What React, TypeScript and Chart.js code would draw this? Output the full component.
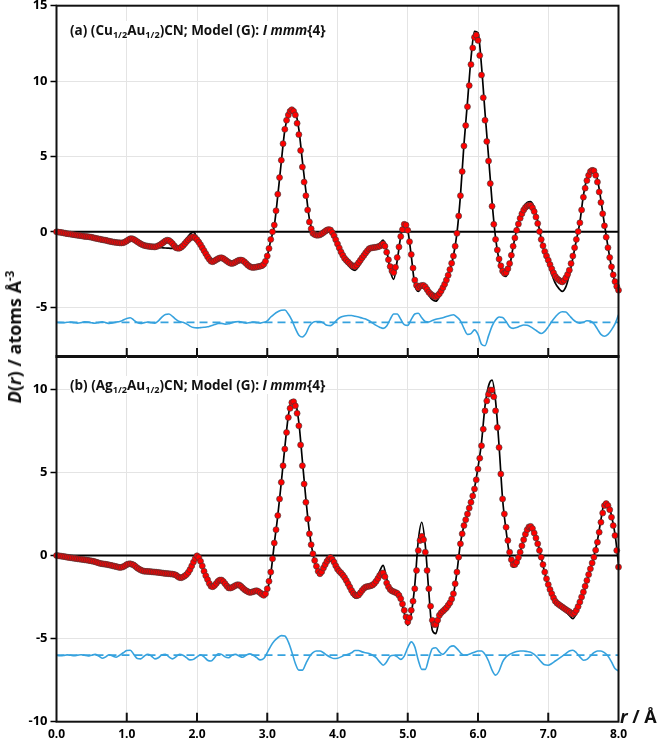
import React, { useEffect, useRef } from 'react';
import Chart from 'chart.js/auto';

// r grid step (Å); grid values are read at r = 0.00, 0.05, ... 8.00,
// the *_MID arrays hold the experimental points read in between (0.025, 0.075, ...)
const R_STEP = 0.05;
const X_MIN = 0;
const X_MAX = 8;
const X_MAJOR_TICKS = [1, 2, 3, 4, 5, 6, 7];
const DIFF_OFFSET = -6;

// ---- Panel (a) (Cu1/2Au1/2)CN ----
const TOP_EXP = [
  0, -0.03, -0.07, -0.12, -0.15, -0.19, -0.23, -0.26, -0.30, -0.32,
  -0.36, -0.42, -0.47, -0.52, -0.56, -0.62, -0.67, -0.70, -0.73, -0.72,
  -0.60, -0.46, -0.50, -0.65, -0.80, -0.90, -0.95, -0.98, -1.00, -0.92,
  -0.78, -0.60, -0.57, -0.78, -1.05, -1.08, -0.92, -0.65, -0.42, -0.33,
  -0.52, -0.85, -1.25, -1.65, -1.95, -1.92, -1.78, -1.72, -1.85, -2.02,
  -2.10, -2.00, -1.88, -1.90, -2.10, -2.30, -2.36, -2.33, -2.28, -2.15,
  -1.60, -0.50, 0.45, 2.50, 4.75, 6.80, 7.75, 8.10, 7.75, 6.45,
  4.30, 2.40, 0.66, -0.10, -0.22, -0.20, -0.05, 0.12, 0.12, -0.25,
  -0.80, -1.33, -1.75, -2.00, -2.22, -2.30, -2.05, -1.72, -1.40, -1.12,
  -1.05, -1.02, -0.95, -0.80, -1.35, -2.30, -2.70, -1.70, -0.30, 0.50,
  0.10, -1.50, -3.20, -3.70, -3.55, -3.65, -4.00, -4.20, -4.30, -4.10,
  -3.70, -3.20, -2.50, -1.60, -0.10, 2.40, 5.70, 8.30, 11.10, 12.90,
  12.70, 10.40, 7.40, 4.70, 1.70, -0.50, -1.80, -2.60, -2.70, -2.10,
  -0.95, 0.10, 0.90, 1.45, 1.72, 1.75, 1.35, 0.55, -0.50, -1.30,
  -1.88, -2.45, -2.95, -3.20, -3.32, -3.05, -2.54, -1.60, -0.50, 0.60,
  2.30, 3.40, 4.00, 4.05, 3.30, 1.95, 0.40, -1.05, -2.32, -3.30,
  -3.87,
];
const TOP_EXP_MID = [
  -0.015, -0.05, -0.095, -0.135, -0.17, -0.21, -0.245, -0.28, -0.31, -0.34,
  -0.39, -0.445, -0.495, -0.54, -0.59, -0.645, -0.685, -0.715, -0.735, -0.67,
  -0.52, -0.45, -0.57, -0.73, -0.86, -0.93, -0.965, -0.99, -0.97, -0.86,
  -0.69, -0.55, -0.66, -0.92, -1.09, -1.02, -0.79, -0.53, -0.35, -0.40,
  -0.68, -1.05, -1.45, -1.82, -1.98, -1.85, -1.73, -1.77, -1.94, -2.08,
  -2.06, -1.93, -1.87, -1.99, -2.21, -2.35, -2.35, -2.30, -2.24, -1.95,
  -1.10, 0.00, 1.40, 3.60, 5.85, 7.40, 8.00, 8.00, 7.20, 5.40,
  3.30, 1.45, 0.20, -0.18, -0.22, -0.13, 0.04, 0.15, -0.04, -0.52,
  -1.07, -1.55, -1.89, -2.12, -2.28, -2.20, -1.89, -1.56, -1.25, -1.07,
  -1.03, -0.99, -0.86, -0.95, -1.85, -2.60, -2.35, -1.00, 0.15, 0.45,
  -0.65, -2.40, -3.55, -3.60, -3.55, -3.82, -4.12, -4.28, -4.22, -3.92,
  -3.47, -2.88, -2.08, -0.95, 1.05, 4.00, 7.05, 9.70, 12.20, 13.05,
  11.70, 8.90, 6.00, 3.20, 0.50, -1.20, -2.25, -2.75, -2.45, -1.55,
  -0.40, 0.52, 1.20, 1.62, 1.77, 1.60, 0.98, 0.02, -0.92, -1.60,
  -2.17, -2.72, -3.10, -3.28, -3.22, -2.82, -2.10, -1.05, 0.02, 1.45,
  2.90, 3.75, 4.08, 3.75, 2.65, 1.20, -0.35, -1.70, -2.85, -3.62,
];
const TOP_CALC = [
  0, -0.03, -0.07, -0.12, -0.15, -0.19, -0.23, -0.26, -0.30, -0.32,
  -0.36, -0.42, -0.47, -0.52, -0.56, -0.62, -0.67, -0.70, -0.73, -0.72,
  -0.60, -0.48, -0.52, -0.66, -0.80, -0.90, -0.95, -0.98, -1.00, -1.03,
  -1.05, -1.07, -1.08, -1.10, -1.10, -1.00, -0.75, -0.45, -0.15, 0.00,
  -0.40, -0.85, -1.25, -1.65, -1.95, -1.92, -1.78, -1.72, -1.85, -2.02,
  -2.10, -2.00, -1.88, -1.90, -2.10, -2.30, -2.38, -2.35, -2.30, -2.15,
  -1.60, -0.55, 0.40, 2.40, 4.65, 6.75, 7.80, 8.20, 7.95, 6.80,
  4.70, 2.70, 0.85, 0.00, -0.22, -0.22, -0.05, 0.12, 0.10, -0.30,
  -0.90, -1.45, -1.90, -2.20, -2.45, -2.55, -2.30, -1.90, -1.45, -1.12,
  -1.02, -0.98, -0.80, -0.55, -1.20, -2.55, -3.15, -1.90, -0.30, 0.62,
  0.15, -1.60, -3.50, -3.95, -3.70, -3.80, -4.20, -4.50, -4.60, -4.30,
  -3.80, -3.25, -2.55, -1.60, -0.10, 2.40, 5.80, 8.60, 11.50, 13.30,
  13.20, 11.00, 7.90, 5.00, 2.00, -0.40, -1.90, -2.80, -2.95, -2.30,
  -1.00, 0.15, 1.05, 1.65, 1.95, 2.00, 1.60, 0.70, -0.45, -1.40,
  -2.10, -2.80, -3.40, -3.75, -3.95, -3.65, -2.85, -1.75, -0.55, 0.65,
  2.40, 3.55, 4.15, 4.20, 3.50, 2.10, 0.50, -1.00, -2.35, -3.35,
  -3.95,
];
const TOP_DIFF = [
  -6.00, -6.02, -6.03, -6.00, -5.98, -6.02, -6.05, -6.02, -5.97, -5.98,
  -6.03, -6.06, -6.02, -5.97, -6.02, -6.08, -6.05, -5.98, -5.95, -5.85,
  -5.75, -5.70, -5.85, -6.02, -6.08, -6.02, -5.98, -6.03, -6.05, -5.90,
  -5.65, -5.48, -5.45, -5.60, -5.80, -5.95, -6.00, -6.10, -6.25, -6.35,
  -6.37, -6.35, -6.33, -6.30, -6.22, -6.15, -6.08, -6.07, -6.12, -6.10,
  -6.02, -5.97, -5.95, -6.00, -6.05, -6.02, -5.98, -6.02, -6.05, -6.00,
  -5.90, -5.65, -5.45, -5.30, -5.20, -5.18, -5.45, -5.85, -6.40, -6.85,
  -6.97, -6.75, -6.25, -6.00, -5.95, -5.95, -6.05, -6.20, -6.22, -6.05,
  -5.80, -5.65, -5.58, -5.55, -5.55, -5.60, -5.65, -5.72, -5.78, -5.90,
  -6.05, -6.20, -6.32, -6.40, -6.25, -5.80, -5.45, -5.45, -5.80, -6.15,
  -6.20, -5.80, -5.45, -5.40, -5.70, -5.95, -5.98, -5.88, -5.80, -5.75,
  -5.70, -5.62, -5.55, -5.50, -5.65, -5.90, -6.40, -6.80, -6.75, -6.50,
  -6.80, -7.45, -7.55, -6.90, -6.25, -5.85, -5.65, -5.68, -5.95, -6.30,
  -6.40, -6.35, -6.25, -6.18, -6.20, -6.30, -6.45, -6.62, -6.74, -6.60,
  -6.30, -5.95, -5.65, -5.40, -5.30, -5.32, -5.55, -5.80, -5.98, -6.05,
  -6.00, -5.90, -5.92, -6.10, -6.45, -6.80, -6.92, -6.80, -6.50, -6.10,
  -5.50,
];

// ---- Panel (b) (Ag1/2Au1/2)CN ----
const BOT_EXP = [
  0, -0.03, -0.06, -0.10, -0.13, -0.17, -0.20, -0.23, -0.26, -0.29,
  -0.33, -0.38, -0.45, -0.50, -0.53, -0.57, -0.62, -0.67, -0.72, -0.68,
  -0.55, -0.50, -0.58, -0.75, -0.88, -0.95, -0.96, -0.98, -1.00, -1.02,
  -1.05, -1.08, -1.10, -1.12, -1.18, -1.33, -1.30, -1.15, -0.85, -0.40,
  -0.02, -0.35, -0.95, -1.45, -1.85, -1.80, -1.55, -1.48, -1.70, -1.95,
  -1.92, -1.80, -1.77, -1.95, -2.12, -2.22, -2.18, -2.12, -2.25, -2.40,
  -2.00, -1.00, 0.75, 2.40, 4.40, 6.40, 8.30, 9.20, 9.00, 7.80,
  5.40, 3.20, 1.30, 0.10, -0.65, -1.10, -0.75, -0.35, -0.12, -0.40,
  -0.82, -1.05, -1.32, -1.70, -2.10, -2.38, -2.38, -2.10, -1.90, -1.85,
  -1.78, -1.55, -1.20, -1.05, -1.65, -2.05, -2.18, -2.28, -2.60, -3.30,
  -4.00, -3.30, -2.00, 0.30, 1.15, 0.20, -2.00, -3.90, -4.15, -3.60,
  -3.35, -3.15, -2.85, -2.30, -1.00, 0.70, 1.80, 2.50, 3.20, 4.00,
  5.20, 6.60, 8.70, 9.70, 9.95, 8.70, 6.50, 3.40, 1.70, 0.20,
  -0.55, -0.40, 0.20, 0.95, 1.55, 1.75, 1.35, 0.70, -0.10, -1.00,
  -1.75, -2.30, -2.75, -2.95, -3.10, -3.25, -3.38, -3.53, -3.30, -2.80,
  -2.20, -1.50, -0.80, -0.10, 0.80, 2.00, 3.00, 3.00, 2.30, 1.20,
  -0.70,
];
const BOT_EXP_MID = [
  -0.015, -0.045, -0.08, -0.115, -0.15, -0.185, -0.215, -0.245, -0.275, -0.31,
  -0.355, -0.415, -0.48, -0.515, -0.55, -0.595, -0.645, -0.70, -0.71, -0.62,
  -0.51, -0.53, -0.66, -0.82, -0.92, -0.955, -0.97, -0.99, -1.01, -1.035,
  -1.065, -1.09, -1.11, -1.14, -1.26, -1.34, -1.23, -1.02, -0.63, -0.18,
  -0.12, -0.63, -1.22, -1.68, -1.88, -1.68, -1.48, -1.57, -1.84, -1.96,
  -1.86, -1.76, -1.85, -2.05, -2.18, -2.21, -2.14, -2.17, -2.34, -2.30,
  -1.55, -0.20, 1.55, 3.40, 5.40, 7.40, 8.85, 9.25, 8.55, 6.65,
  4.30, 2.20, 0.65, -0.30, -0.95, -0.98, -0.55, -0.20, -0.22, -0.62,
  -0.95, -1.18, -1.50, -1.90, -2.27, -2.42, -2.25, -1.98, -1.87, -1.82,
  -1.68, -1.38, -1.08, -1.28, -1.88, -2.13, -2.22, -2.40, -2.92, -3.70,
  -3.75, -2.75, -0.90, 0.90, 0.95, -0.90, -3.05, -4.15, -3.90, -3.45,
  -3.25, -3.00, -2.62, -1.70, -0.10, 1.30, 2.15, 2.85, 3.58, 4.55,
  5.85, 7.60, 9.30, 9.95, 9.55, 7.70, 4.90, 2.50, 0.90, -0.25,
  -0.55, -0.12, 0.58, 1.28, 1.72, 1.62, 1.05, 0.30, -0.55, -1.40,
  -2.05, -2.55, -2.87, -3.03, -3.18, -3.32, -3.47, -3.45, -3.07, -2.50,
  -1.85, -1.15, -0.45, 0.32, 1.40, 2.55, 3.12, 2.75, 1.80, 0.30,
];
const BOT_CALC = [
  0, -0.03, -0.06, -0.10, -0.13, -0.17, -0.20, -0.23, -0.26, -0.29,
  -0.33, -0.38, -0.43, -0.48, -0.53, -0.58, -0.63, -0.68, -0.72, -0.72,
  -0.62, -0.58, -0.62, -0.75, -0.88, -0.95, -0.96, -0.98, -1.00, -1.02,
  -1.05, -1.08, -1.10, -1.12, -1.18, -1.30, -1.28, -1.10, -0.75, -0.25,
  0.10, -0.30, -0.95, -1.50, -1.85, -1.80, -1.55, -1.50, -1.72, -1.95,
  -1.92, -1.80, -1.80, -1.98, -2.15, -2.25, -2.20, -2.15, -2.30, -2.45,
  -2.10, -1.10, 0.70, 2.40, 4.40, 6.50, 8.40, 9.35, 9.20, 8.00,
  5.70, 3.40, 1.40, 0.10, -0.75, -1.20, -0.80, -0.30, 0.00, -0.35,
  -0.85, -1.10, -1.40, -1.80, -2.25, -2.55, -2.50, -2.20, -1.95, -1.85,
  -1.75, -1.45, -0.95, -0.60, -1.40, -2.05, -2.25, -2.35, -2.70, -3.45,
  -4.20, -3.50, -1.80, 0.90, 2.00, 0.60, -2.20, -4.50, -4.70, -3.80,
  -3.40, -3.20, -2.90, -2.35, -1.00, 0.75, 1.80, 2.50, 3.20, 4.05,
  5.30, 6.80, 9.00, 10.20, 10.55, 9.30, 6.60, 3.40, 1.50, 0.00,
  -0.70, -0.50, 0.20, 1.00, 1.65, 1.83, 1.45, 0.75, -0.10, -1.05,
  -1.85, -2.40, -2.85, -3.05, -3.20, -3.40, -3.60, -3.80, -3.50, -2.90,
  -2.30, -1.55, -0.80, -0.05, 0.90, 2.15, 3.20, 3.15, 2.40, 1.30,
  -0.50,
];
const BOT_DIFF = [
  -6.00, -6.03, -6.02, -5.98, -6.00, -6.03, -6.00, -5.97, -6.00, -6.05,
  -6.00, -5.95, -6.05, -6.18, -6.10, -5.97, -6.05, -6.12, -6.00, -5.85,
  -5.72, -5.70, -5.95, -6.20, -6.22, -6.05, -5.95, -6.05, -6.22, -6.15,
  -5.98, -5.95, -6.10, -6.22, -6.10, -5.95, -6.00, -6.15, -6.28, -6.25,
  -6.10, -5.98, -6.10, -6.30, -6.35, -6.15, -5.92, -5.95, -6.10, -6.15,
  -6.00, -5.95, -6.05, -6.12, -6.00, -5.92, -6.00, -6.15, -6.28, -6.20,
  -5.85, -5.45, -5.15, -4.95, -4.82, -4.85, -5.20, -5.80, -6.50, -6.90,
  -6.90, -6.50, -6.10, -5.85, -5.75, -5.75, -5.85, -6.00, -6.12, -6.20,
  -6.18, -6.10, -6.00, -5.95, -5.85, -5.72, -5.72, -5.80, -5.85, -5.90,
  -6.00, -6.15, -6.40, -6.60, -6.40, -6.05, -6.00, -6.10, -6.25, -6.05,
  -5.55, -5.20, -5.50, -6.30, -6.85, -6.85, -6.20, -5.60, -5.55, -5.80,
  -5.95, -5.75, -5.50, -5.44, -5.60, -5.85, -6.00, -5.98, -5.90, -5.82,
  -5.75, -5.75, -5.95, -6.35, -6.90, -7.20, -6.95, -6.40, -6.10, -5.95,
  -5.85, -5.78, -5.75, -5.75, -5.78, -5.82, -5.95, -6.15, -6.40, -6.58,
  -6.60, -6.50, -6.35, -6.20, -6.05, -5.90, -5.75, -5.70, -5.85, -6.10,
  -6.30, -6.25, -6.05, -5.85, -5.75, -5.75, -5.85, -6.05, -6.40, -6.80,
  -6.95,
];

const R_GRID = TOP_EXP.map((_, i) => Math.round(i * R_STEP * 1000) / 1000);
const R_MID = TOP_EXP_MID.map((_, i) => Math.round((i + 0.5) * R_STEP * 1000) / 1000);

const FONT = "'Open Sans', 'Liberation Sans', sans-serif";
const BLUE = '#36a2de';
const GRID = '#e4e4e4';

function toPoints(ys: number[]) {
  return ys.map((y, i) => ({ x: R_GRID[i], y }));
}

function expPoints(grid: number[], mids: number[]) {
  const out: { x: number; y: number }[] = [];
  grid.forEach((y, i) => {
    out.push({ x: R_GRID[i], y });
    if (i < mids.length) out.push({ x: R_MID[i], y: mids[i] });
  });
  return out;
}

const framePlugin = {
  id: 'frameTicks',
  afterDatasetsDraw(chart: any) {
    const { ctx, chartArea: a, scales } = chart;
    const x = scales.x;
    ctx.save();
    ctx.strokeStyle = '#111';
    ctx.lineWidth = 2;
    for (const v of X_MAJOR_TICKS) {
      const px = x.getPixelForValue(v);
      ctx.beginPath();
      ctx.moveTo(px, a.bottom);
      ctx.lineTo(px, a.bottom - 9);
      ctx.stroke();
    }
    ctx.strokeRect(a.left, a.top, a.right - a.left, a.bottom - a.top);
    ctx.restore();
  },
};

type PanelProps = {
  exp: number[];
  expMid: number[];
  calc: number[];
  diff: number[];
  yMin: number;
  yMax: number;
  showXLabels: boolean;
  top: number;
  height: number;
  padTop: number;
  padBottom: number;
  xAxisHeight: number;
};

function Panel(p: PanelProps) {
  const ref = useRef<HTMLCanvasElement | null>(null);
  useEffect(() => {
    if (!ref.current) return;
    const chart = new Chart(ref.current, {
      type: 'line',
      data: {
        datasets: [
          {
            label: 'exp',
            data: expPoints(p.exp, p.expMid),
            showLine: false,
            pointRadius: 3,
            pointBackgroundColor: '#ff0000',
            pointBorderColor: '#3a3a3a',
            pointBorderWidth: 0.6,
            clip: 6,
          } as any,
          {
            label: 'calc',
            data: toPoints(p.calc),
            borderColor: '#000',
            borderWidth: 1.7,
            pointRadius: 0,
            cubicInterpolationMode: 'monotone',
          },
          {
            label: 'diff',
            data: toPoints(p.diff),
            borderColor: BLUE,
            borderWidth: 1.6,
            pointRadius: 0,
            cubicInterpolationMode: 'monotone',
          },
          {
            label: 'offset',
            data: [
              { x: X_MIN, y: DIFF_OFFSET },
              { x: X_MAX, y: DIFF_OFFSET },
            ],
            borderColor: BLUE,
            borderWidth: 1.8,
            borderDash: [8, 5],
            pointRadius: 0,
          },
          {
            label: 'zero',
            data: [
              { x: X_MIN, y: 0 },
              { x: X_MAX, y: 0 },
            ],
            borderColor: '#000',
            borderWidth: 2,
            pointRadius: 0,
          },
        ],
      },
      options: {
        responsive: false,
        animation: false,
        events: [],
        layout: { padding: { top: p.padTop, right: 45.5, bottom: p.padBottom, left: 0 } },
        plugins: { legend: { display: false }, tooltip: { enabled: false } },
        scales: {
          x: {
            type: 'linear',
            min: X_MIN,
            max: X_MAX,
            border: { display: false },
            grid: { color: GRID, lineWidth: 1, drawTicks: false },
            ticks: {
              display: p.showXLabels,
              stepSize: 1,
              padding: 6,
              color: '#000',
              font: { family: FONT, size: 12, weight: 'bold' },
              callback: (v: any) => Number(v).toFixed(1),
            },
            afterFit: (s: any) => {
              s.height = p.xAxisHeight;
            },
          },
          y: {
            type: 'linear',
            min: p.yMin,
            max: p.yMax,
            border: { display: false },
            grid: { color: GRID, lineWidth: 1, tickColor: '#000', tickLength: 6, tickWidth: 1.5 } as any,
            ticks: {
              stepSize: 5,
              includeBounds: false,
              padding: 3,
              color: '#000',
              font: { family: FONT, size: 13, weight: 'bold' },
            },
            afterFit: (s: any) => {
              s.width = 56.5;
            },
          },
        },
      },
      plugins: [framePlugin],
    } as any);
    return () => chart.destroy();
  }, []);
  return (
    <canvas
      ref={ref}
      width={664}
      height={p.height}
      style={{ position: 'absolute', left: 0, top: p.top, width: 664, height: p.height, display: 'block' }}
    />
  );
}

const subStyle: React.CSSProperties = { fontSize: '0.68em', verticalAlign: '-0.32em', lineHeight: 0 };

function Label({ metal, top }: { metal: string; top: number }) {
  return (
    <div
      style={{
        position: 'absolute',
        left: 70,
        top,
        transform: 'translateY(-50%)',
        font: `bold 13.5px ${FONT}`,
        color: '#111',
        whiteSpace: 'nowrap',
        background: '#fff',
        lineHeight: '18px',
      }}
    >
      {metal === 'Cu' ? '(a) ' : '(b) '}({metal}
      <span style={subStyle}>1/2</span>Au<span style={subStyle}>1/2</span>)CN; Model (G): <i>I mmm</i>{'{4}'}
    </div>
  );
}

export default function App() {
  return (
    <div
      style={{
        position: 'absolute',
        left: 0,
        top: 0,
        width: 664,
        height: 745,
        overflow: 'hidden',
        background: '#fff',
      }}
    >
      <Panel
        exp={TOP_EXP}
        expMid={TOP_EXP_MID}
        calc={TOP_CALC}
        diff={TOP_DIFF}
        yMin={-8.3}
        yMax={15}
        showXLabels={false}
        top={-10}
        height={382}
        padTop={15.7}
        padBottom={15}
        xAxisHeight={0}
      />
      <Panel
        exp={BOT_EXP}
        expMid={BOT_EXP_MID}
        calc={BOT_CALC}
        diff={BOT_DIFF}
        yMin={-10}
        yMax={12}
        showXLabels={true}
        top={340}
        height={405}
        padTop={16}
        padBottom={0}
        xAxisHeight={23.3}
      />
      <Label metal="Cu" top={30} />
      <Label metal="Ag" top={385} />
      <div
        style={{
          position: 'absolute',
          left: 14,
          top: 337,
          transform: 'translate(-50%, -50%) rotate(-90deg)',
          font: `bold 18px ${FONT}`,
          color: '#111',
          whiteSpace: 'nowrap',
          lineHeight: '22px',
        }}
      >
        <i>D</i>(<i>r</i>) / atoms Å<sup style={{ fontSize: '0.65em', lineHeight: 0 }}>-3</sup>
      </div>
      <div
        style={{
          position: 'absolute',
          left: 620,
          top: 716,
          transform: 'translateY(-50%)',
          font: `bold 18px ${FONT}`,
          color: '#111',
          whiteSpace: 'nowrap',
          lineHeight: '22px',
        }}
      >
        <i>r</i> / Å
      </div>
    </div>
  );
}
